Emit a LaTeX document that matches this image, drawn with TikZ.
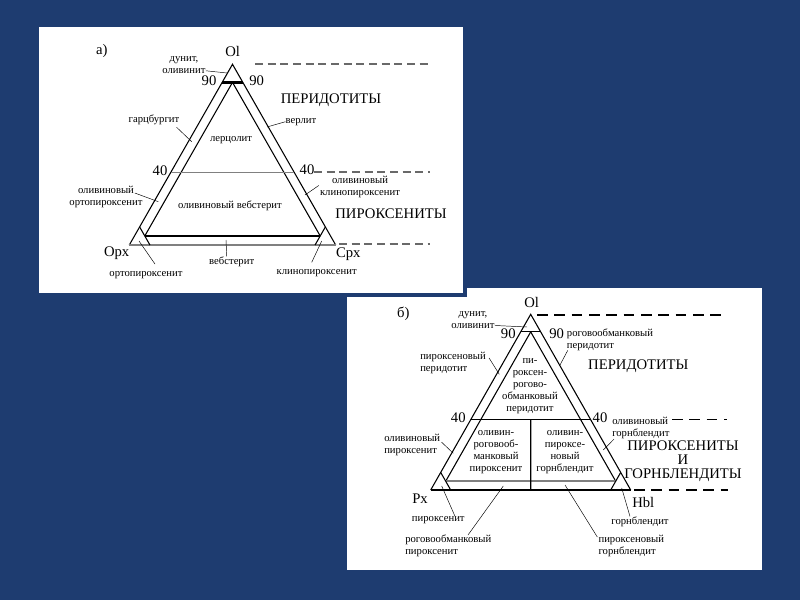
\documentclass[tikz,border=0pt]{standalone}
\usepackage{fontspec}
\setmainfont{Liberation Serif}
\usetikzlibrary{calc}

\definecolor{slideblue}{RGB}{30,60,112}
\definecolor{dashgray}{RGB}{105,105,105}

\tikzset{
  rock/.style={font=\fontsize{8}{9}\selectfont, align=center, inner sep=0pt},
  rockleft/.style={rock, align=left, anchor=north west},
  family/.style={font=\fontsize{11}{10.5}\selectfont, align=center, inner sep=0pt},
  corner/.style={font=\fontsize{11}{12}\selectfont, inner sep=0pt},
  leader/.style={line width=0.35pt},
  side/.style={line width=0.8pt},
  bound/.style={dash pattern=on 6pt off 3.5pt, line width=1.3pt}
}

\begin{document}
\begin{tikzpicture}[x=0.75pt,y=-0.75pt]

  % slide and the two pictures
  \fill[slideblue] (0,0) rectangle (800,600);
  \fill[white] (347,288) rectangle (762,570);
  \filldraw[fill=white,draw=slideblue,line width=3pt] (37,25) rectangle (465,295);

  % a) Ol - Opx - Cpx
  \begin{scope}
    \coordinate (olA) at (232.5,64.3);
    \coordinate (opx) at (129.3,245);
    \coordinate (cpx) at (335.7,245);

    \draw[side] (opx) -- (olA) -- (cpx);
    \draw[line width=1.3pt, gray] (opx) -- (cpx);
    % 5% strips
    \draw[side] (barycentric cs:olA=.9,opx=.05,cpx=.05) -- (barycentric cs:olA=.05,opx=.9,cpx=.05);
    \draw[side] (barycentric cs:olA=.9,opx=.05,cpx=.05) -- (barycentric cs:olA=.05,opx=.05,cpx=.9);
    \draw[line width=1.6pt] (barycentric cs:olA=.05,opx=.9,cpx=.05) -- (barycentric cs:olA=.05,opx=.05,cpx=.9);
    % 90% lines
    \draw[line width=1.8pt] (barycentric cs:olA=.9,opx=.1,cpx=0) -- (barycentric cs:olA=.9,opx=0,cpx=.1);
    \draw[side] (barycentric cs:olA=.1,opx=.9,cpx=0) -- (barycentric cs:olA=0,opx=.9,cpx=.1);
    \draw[side] (barycentric cs:olA=.1,opx=0,cpx=.9) -- (barycentric cs:olA=0,opx=.1,cpx=.9);
    % 40% line
    \draw[line width=1pt, gray] (barycentric cs:olA=.4,opx=.6,cpx=0) -- (barycentric cs:olA=.4,opx=0,cpx=.6);

    \draw[bound, dashgray] (255,64) -- (430,64);
    \draw[bound, dashgray] (314,172) -- (430,172);
    \draw[bound, dashgray] (339,244) -- (430,244);

    \node[corner] (tagA) at (101.7,51) {а)};
    \node[corner] (olLabA) at (232.7,51.7) {Ol};
    \node[corner] (opxLab) at (116.7,253) {Opx};
    \node[corner] (cpxLab) at (348.3,254) {Cpx};
    \node[corner] (n90lA) at (209,81) {90};
    \node[corner] (n90rA) at (256.7,81) {90};
    \node[corner] (n40lA) at (160,171) {40};
    \node[corner] (n40rA) at (307,170) {40};

    \node[family] (perA) at (331,100) {ПЕРИДОТИТЫ};
    \node[family] (pyrA) at (391,213.3) {ПИРОКСЕНИТЫ};

    \node[rock] (dunA) at (184,65) {дунит,\\оливинит};
    \node[rock] (garz) at (154,120) {гарцбургит};
    \node[rock] (verl) at (301,121.7) {верлит};
    \node[rock] (lherz) at (231,140) {лерцолит};
    \node[rock] (olort) at (106,197) {оливиновый\\ортопироксенит};
    \node[rock] (olcl) at (360,186.5) {оливиновый\\клинопироксенит};
    \node[rock] (olweb) at (230,206) {оливиновый вебстерит};
    \node[rock] (web) at (231.7,261.7) {вебстерит};
    \node[rock] (orthpx) at (146,275) {ортопироксенит};
    \node[rock] (clinpx) at (316.7,273.3) {клинопироксенит};

    \coordinate (dunAT) at (227,73);
    \coordinate (garzT) at (191.7,141.7);
    \coordinate (verlT) at (267,127);
    \coordinate (olortT) at (158.3,201.7);
    \coordinate (olclT) at (305,195);
    \coordinate (webT) at (226,240);
    \coordinate (orthpxT) at (139,241);
    \coordinate (clinpxT) at (321.7,241);

    \draw[leader] ($(dunA.south east)+(0,-3)$) -- (dunAT);
    \draw[leader] ($(garz.south east)+(-3,2)$) -- (garzT);
    \draw[leader] (verl.west) -- (verlT);
    \draw[leader] ($(olort.east)+(-8,-4)$) -- (olortT);
    \draw[leader] ($(olcl.west)+(-1,-1)$) -- (olclT);
    \draw[leader] ($(web.north)+(-5,0)$) -- (webT);
    \draw[leader] ($(orthpx.north)+(9,-7)$) -- (orthpxT);
    \draw[leader] ($(clinpx.north)+(-5,-7)$) -- (clinpxT);
  \end{scope}

  % b) Ol - Px - Hbl
  \begin{scope}
    \coordinate (olB) at (530.7,314.3);
    \coordinate (px) at (430.7,490);
    \coordinate (hbl) at (630.7,490);

    \draw[side] (px) -- (olB) -- (hbl);
    \draw[line width=1.6pt] (px) -- (hbl);
    % 5% strips
    \draw[side] (barycentric cs:olB=.9,px=.05,hbl=.05) -- (barycentric cs:olB=.05,px=.9,hbl=.05);
    \draw[side] (barycentric cs:olB=.9,px=.05,hbl=.05) -- (barycentric cs:olB=.05,px=.05,hbl=.9);
    \draw[line width=1.6pt, gray] (barycentric cs:olB=.05,px=.9,hbl=.05) -- (barycentric cs:olB=.05,px=.05,hbl=.9);
    % 90% lines
    \draw[side] (barycentric cs:olB=.9,px=.1,hbl=0) -- (barycentric cs:olB=.9,px=0,hbl=.1);
    \draw[side] (barycentric cs:olB=.1,px=.9,hbl=0) -- (barycentric cs:olB=0,px=.9,hbl=.1);
    \draw[side] (barycentric cs:olB=.1,px=0,hbl=.9) -- (barycentric cs:olB=0,px=.1,hbl=.9);
    % 40% line and the split below it
    \draw[side] (barycentric cs:olB=.4,px=.6,hbl=0) -- (barycentric cs:olB=.4,px=0,hbl=.6);
    \draw[line width=1pt] (barycentric cs:olB=.4,px=.3,hbl=.3) -- (barycentric cs:olB=0,px=.5,hbl=.5);

    \draw[bound, dash pattern=on 8pt off 5pt, line width=1.1pt] (537,315) -- (723,315);
    \draw[bound, dash pattern=on 8pt off 5pt, line width=1.1pt] (672,419.5) -- (727,419.5);
    \draw[bound, dash pattern=on 8pt off 5pt, line width=1.4pt] (634,490) -- (728,490);

    \node[corner] (tagB) at (403.3,314) {б)};
    \node[corner] (olLabB) at (531.7,302.7) {Ol};
    \node[corner] (pxLab) at (420,498.5) {Px};
    \node[corner] (hblLab) at (643.3,502) {Hbl};
    \node[corner] (n90lB) at (508.3,334) {90};
    \node[corner] (n90rB) at (556.7,334) {90};
    \node[corner] (n40lB) at (458.3,418) {40};
    \node[corner] (n40rB) at (600,418) {40};

    \node[family] (perB) at (638.3,366.7) {ПЕРИДОТИТЫ};
    \node[family] (famB) at (683,461) {ПИРОКСЕНИТЫ\\И\\ГОРНБЛЕНДИТЫ};

    \node[rock] (dunB) at (473,319.7) {дунит,\\оливинит};
    \node[rockleft] (hbper) at (566.7,329) {роговообманковый\\перидотит};
    \node[rockleft] (pxper) at (420,352) {пироксеновый\\перидотит};
    \node[rock] (ptop) at (530,386) {пи-\\роксен-\\рогово-\\обманковый\\перидотит};
    \node[rockleft] (olhb) at (612,417) {оливиновый\\горнблендит};
    \node[rockleft] (olpx) at (384,434) {оливиновый\\пироксенит};
    \node[rock] (pleft) at (496,452.5) {оливин-\\роговооб-\\манковый\\пироксенит};
    \node[rock] (pright) at (565,452.5) {оливин-\\пироксе-\\новый\\горнблендит};
    \node[rock] (pxrock) at (438.3,520) {пироксенит};
    \node[rockleft] (hbpx) at (405,535) {роговообманковый\\пироксенит};
    \node[rock] (hbrock) at (640,521.7) {горнблендит};
    \node[rockleft] (pxhb) at (598.3,535) {пироксеновый\\горнблендит};

    \coordinate (dunBT) at (527,327);
    \coordinate (hbperT) at (560,365);
    \coordinate (pxperT) at (499.3,374.3);
    \coordinate (olhbT) at (603.3,450);
    \coordinate (olpxT) at (453.3,453.3);
    \coordinate (pxrockT) at (441.7,486);
    \coordinate (hbpxT) at (503.3,486);
    \coordinate (hbrockT) at (621.7,488);
    \coordinate (pxhbT) at (565,485);

    \draw[leader] ($(dunB.south east)+(0,-3)$) -- (dunBT);
    \draw[leader] ($(hbper.south west)+(1,-1)$) -- (hbperT);
    \draw[leader] ($(pxper.north east)+(3,6)$) -- (pxperT);
    \draw[leader] ($(olhb.south west)+(2,0)$) -- (olhbT);
    \draw[leader] ($(olpx.east)+(1,-3)$) -- (olpxT);
    \draw[leader] ($(pxrock.north east)+(-10,0)$) -- (pxrockT);
    \draw[leader] ($(hbpx.north west)+(63,0)$) -- (hbpxT);
    \draw[leader] ($(hbrock.north)+(-10,0)$) -- (hbrockT);
    \draw[leader] ($(pxhb.north west)+(-1,2)$) -- (pxhbT);
  \end{scope}

\end{tikzpicture}
\end{document}
